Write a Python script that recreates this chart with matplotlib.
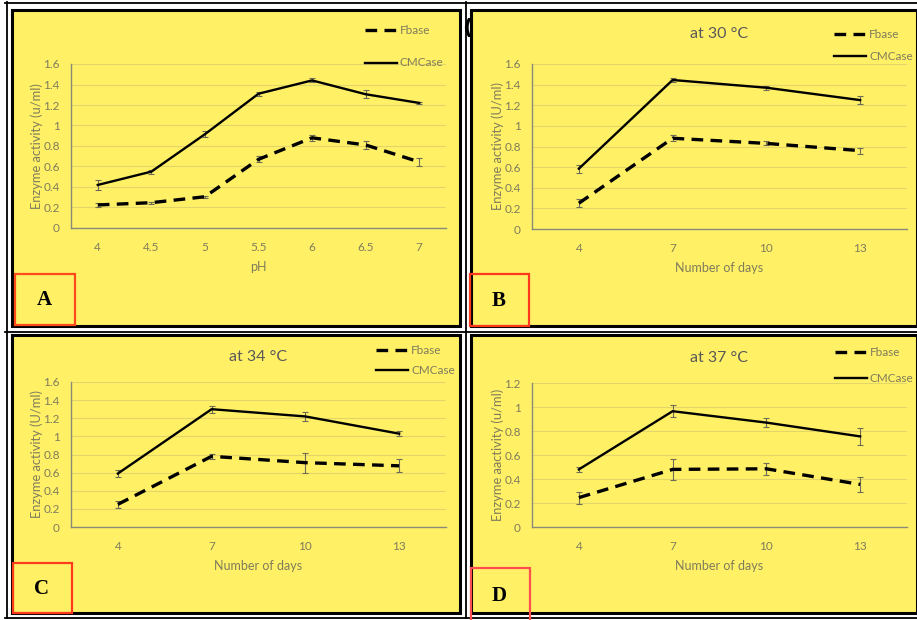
import matplotlib.pyplot as plt
from matplotlib.lines import Line2D
from matplotlib.patches import Rectangle

W, H = 917, 620

# data
ph_labels = ['4', '4.5', '5', '5.5', '6', '6.5', '7']
day_labels = ['4', '7', '10', '13']

fbase_A = [0.225, 0.247, 0.305, 0.67, 0.88, 0.81, 0.645]
fbase_A_err = [0.02, 0.01, 0.01, 0.03, 0.03, 0.04, 0.04]
cmc_A = [0.42, 0.55, 0.915, 1.31, 1.44, 1.305, 1.22]
cmc_A_err = [0.05, 0.02, 0.03, 0.02, 0.02, 0.04, 0.01]

fbase_B = [0.25, 0.88, 0.83, 0.76]
fbase_B_err = [0.04, 0.03, 0.02, 0.03]
cmc_B = [0.585, 1.445, 1.37, 1.25]
cmc_B_err = [0.04, 0.02, 0.02, 0.04]

fbase_C = [0.25, 0.78, 0.71, 0.675]
fbase_C_err = [0.04, 0.03, 0.11, 0.07]
cmc_C = [0.59, 1.30, 1.22, 1.03]
cmc_C_err = [0.04, 0.04, 0.05, 0.03]

fbase_D = [0.245, 0.48, 0.485, 0.355]
fbase_D_err = [0.05, 0.09, 0.05, 0.06]
cmc_D = [0.48, 0.965, 0.87, 0.755]
cmc_D_err = [0.02, 0.05, 0.04, 0.07]

YELLOW = '#fff066'
TXT = '#7f7c5c'
GRID = '#e2d56a'
ERR = '#6f6c55'

plt.rcParams['font.family'] = ['Lato', 'DejaVu Sans']


def fx(x):
    return x / W


def fy(y):
    return 1 - y / H


fig = plt.figure(figsize=(W / 100, H / 100), dpi=100, facecolor='white')

# yellow cells, panel frames and table lines
cells = [(12, 10, 460, 326), (471, 10, 917, 326), (12, 335, 460, 613), (471, 335, 917, 613)]
for x0, y0, x1, y1 in cells:
    fig.add_artist(Rectangle((fx(x0), fy(y1)), fx(x1 - x0), (y1 - y0) / H,
                             transform=fig.transFigure, facecolor=YELLOW,
                             edgecolor='black', lw=2.2, zorder=0))
for x in [6.5, 465.5]:
    fig.add_artist(Line2D([fx(x), fx(x)], [fy(2), fy(618)], transform=fig.transFigure,
                          color='black', lw=1.3, zorder=0))
for y in [3, 331.5, 617.5]:
    fig.add_artist(Line2D([fx(5), 1], [fy(y), fy(y)], transform=fig.transFigure,
                          color='black', lw=1.3, zorder=0))

fig.text(fx(462), fy(28), '(', fontsize=16, fontweight='bold', color='black',
         ha='left', va='center', family='DejaVu Sans')


def panel(x0, y0, x1, y1, labels, fb, fb_err, cm, cm_err, ymax, ylabel, xlabel,
          title=None, title_y=None, leg=None):
    ax = fig.add_axes([fx(x0), fy(y1), fx(x1 - x0), (y1 - y0) / H])
    ax.set_facecolor('none')
    xs = list(range(len(labels)))
    ax.errorbar(xs, fb, yerr=fb_err, color='black', lw=2.4, dashes=(3.5, 2.2),
                ecolor=ERR, elinewidth=0.8, capsize=2.5, capthick=0.8, zorder=3)
    ax.errorbar(xs, cm, yerr=cm_err, color='black', lw=1.7,
                ecolor=ERR, elinewidth=0.8, capsize=2.5, capthick=0.8, zorder=3)
    ax.set_xlim(-0.5, len(labels) - 0.5)
    ax.set_ylim(0, ymax)
    ax.set_xticks(xs)
    ax.set_xticklabels(labels)
    step = 0.2
    ticks = [round(i * step, 1) for i in range(int(round(ymax / step)) + 1)]
    ax.set_yticks(ticks)
    ax.set_yticklabels([f'{t:g}' for t in ticks])
    ax.tick_params(length=0, labelsize=8.5, colors=TXT)
    ax.tick_params(axis='x', pad=10)
    ax.tick_params(axis='y', pad=8)
    ax.grid(axis='y', color=GRID, lw=0.8)
    ax.set_axisbelow(True)
    for s in ['top', 'right']:
        ax.spines[s].set_visible(False)
    for s in ['left', 'bottom']:
        ax.spines[s].set_color('#8a8a7a')
        ax.spines[s].set_linewidth(1.0)
    ax.set_ylabel(ylabel, fontsize=9.3, color=TXT, labelpad=0)
    ax.set_xlabel(xlabel, fontsize=9, color=TXT, labelpad=6)
    if title:
        fig.text(fx((x0 + x1) / 2), fy(title_y), title, fontsize=11.5, color='#595959',
                 ha='center', va='center')
    lx, ly1, ly2 = leg
    fig.add_artist(Line2D([fx(lx), fx(lx + 32)], [fy(ly1), fy(ly1)], transform=fig.transFigure,
                          color='black', lw=2.4, dashes=(3.5, 2.2)))
    fig.add_artist(Line2D([fx(lx), fx(lx + 32)], [fy(ly2), fy(ly2)], transform=fig.transFigure,
                          color='black', lw=1.7))
    fig.text(fx(lx + 35), fy(ly1), 'Fbase', fontsize=8.5, color=TXT, va='center')
    fig.text(fx(lx + 35), fy(ly2), 'CMCase', fontsize=8.5, color=TXT, va='center')
    return ax


panel(71, 64, 446, 228, ph_labels, fbase_A, fbase_A_err, cmc_A, cmc_A_err, 1.6,
      'Enzyme activity (u/ml)', 'pH', leg=(365, 30, 63))
panel(532, 64, 907, 229, day_labels, fbase_B, fbase_B_err, cmc_B, cmc_B_err, 1.6,
      'Enzyme activity (U/ml)', 'Number of days', 'at 30 °C', 34, leg=(834, 34, 56))
panel(71, 382, 446, 527, day_labels, fbase_C, fbase_C_err, cmc_C, cmc_C_err, 1.6,
      'Enzyme activity (U/ml)', 'Number of days', 'at 34 °C', 357, leg=(376, 350, 370))
panel(532, 383, 907, 527, day_labels, fbase_D, fbase_D_err, cmc_D, cmc_D_err, 1.2,
      'Enzyme aactivity (u/ml)', 'Number of days', 'at 37 °C', 358, leg=(835, 352, 378))

# panel letters in red boxes
boxes = [('A', 15, 274, 75, 325, '#ff4a1c'), ('B', 470, 274, 529, 326, '#ff3a1c'),
         ('C', 13, 563, 72, 613, '#ff3a1c'), ('D', 471, 568, 530, 622, '#ff5050')]
for letter, x0, y0, x1, y1, col in boxes:
    fig.add_artist(Rectangle((fx(x0), fy(y1)), fx(x1 - x0), (y1 - y0) / H,
                             transform=fig.transFigure, facecolor='none',
                             edgecolor=col, lw=1.6, zorder=5))
    fig.text(fx((x0 + x1) / 2 - 1), fy((y0 + y1) / 2 + 1), letter, fontsize=15,
             fontweight='bold', family='Liberation Serif', ha='center', va='center')

fig.savefig('out.png', dpi=100, facecolor='white')
